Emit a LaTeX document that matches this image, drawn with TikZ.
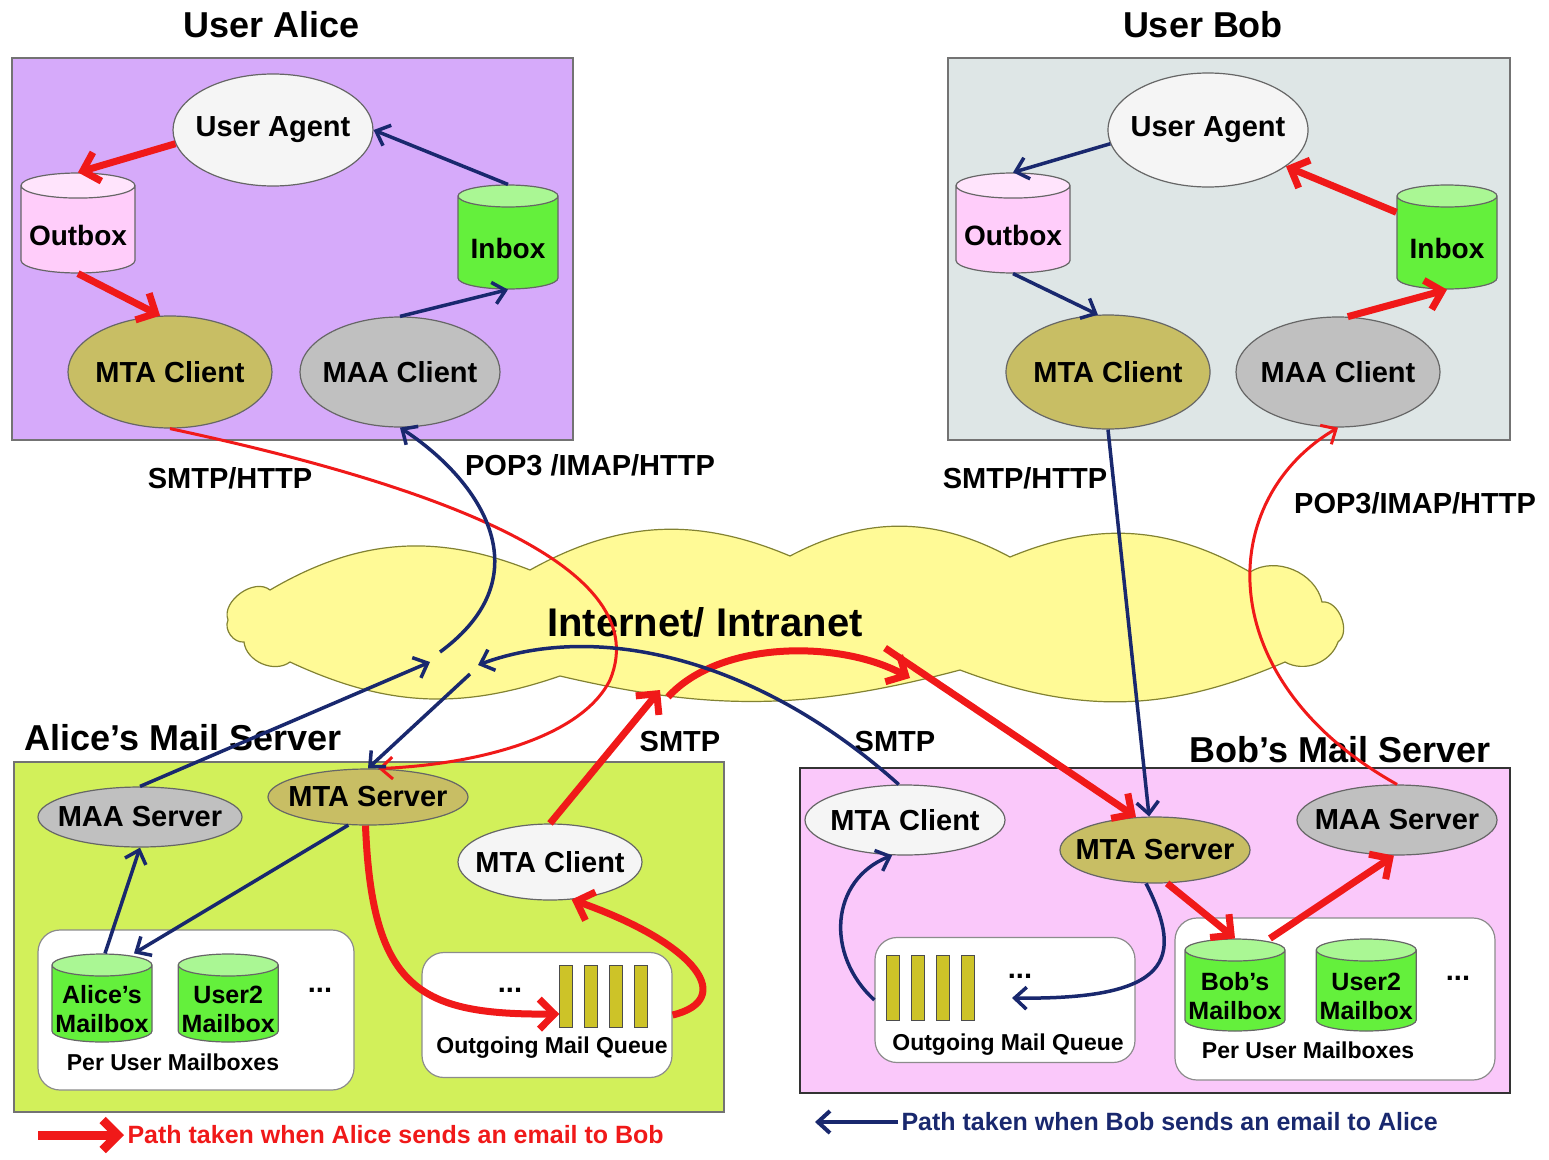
\documentclass[tikz,border=0pt]{standalone}
\usepackage{fontspec}
\setmainfont{Liberation Sans}
\usetikzlibrary{arrows.meta,positioning,shapes.geometric}
\definecolor{alicelilac}{RGB}{214,170,250}
\definecolor{bobgrey}{RGB}{222,230,230}
\definecolor{alicelime}{RGB}{210,240,90}
\definecolor{bobpink}{RGB}{250,200,250}
\definecolor{outpink}{RGB}{255,205,250}
\definecolor{mailgreen}{RGB}{100,240,60}
\definecolor{mtaolive}{RGB}{200,190,100}
\definecolor{maagrey}{RGB}{192,192,192}
\definecolor{agentwhite}{RGB}{245,245,245}
\definecolor{cloudyellow}{RGB}{255,250,150}
\definecolor{cloudedge}{RGB}{130,130,50}
\definecolor{barolive}{RGB}{205,195,40}
\definecolor{pathred}{RGB}{240,25,25}
\definecolor{pathnavy}{RGB}{25,40,110}
\newcommand{\boldat}[1]{\fontsize{#1}{#1}\selectfont\bfseries}

\begin{document}
\begin{tikzpicture}[
    x=1pt,y=-1pt,
    every node/.style={font=\boldat{29}},
    usrbox/.style={draw=black!55,line width=1.5pt},
    grp/.style={draw=black!45,fill=white,rounded corners=22pt,line width=1.2pt,inner sep=0pt},
    ell/.style={ellipse,draw=black!60,line width=1.2pt,inner sep=0pt,
      label={[font=\boldat{29}]center:#1}},
    can/.style={cylinder,shape border rotate=90,aspect=0.22,draw=black!60,line width=1.2pt,
      inner xsep=50pt,inner ysep=0pt,anchor=shape center,cylinder uses custom fill,
      cylinder body fill=mailgreen,cylinder end fill=mailgreen!55!white,
      label={[font=\fontsize{25}{29}\selectfont\bfseries,align=center]center:#1}},
    qbar/.style={draw=black!70,fill=barolive,minimum width=13pt,minimum height=62pt,inner sep=0pt},
    redfat/.style={draw=pathred,line width=7pt,-{Straight Barb[length=15pt,width=30pt]}},
    redthin/.style={draw=pathred,line width=3pt,-{Straight Barb[length=12pt,width=22pt]}},
    bluepath/.style={draw=pathnavy,line width=3.5pt,-{Straight Barb[length=12pt,width=22pt]}}
  ]
    \useasboundingbox (0,0) rectangle (1549,1159);

    % containers
    \draw[usrbox,fill=alicelilac] (12,58) rectangle (573,440);
    \draw[usrbox,fill=bobgrey] (948,58) rectangle (1510,440);
    \draw[usrbox,fill=alicelime] (14,762) rectangle (724,1112);
    \draw[usrbox,draw=black!80,fill=bobpink] (800,768) rectangle (1510,1093);
    \node[font=\boldat{36}] (alicehead) at (272,25) {User Alice};
    \node[font=\boldat{36}] (bobhead) at (1203,25) {User Bob};
    \node[font=\boldat{36}] (asrvhead) at (183,738) {Alice's Mail Server};
    \node[font=\boldat{36}] (bsrvhead) at (1340,750) {Bob's Mail Server};

    \node[grp,minimum width=316pt,minimum height=160pt] (ambox) at (196,1010) {};
    \node[grp,minimum width=250pt,minimum height=125pt] (aqbox) at (547,1015) {};
    \node[grp,minimum width=260pt,minimum height=125pt] (bqbox) at (1005,1000) {};
    \node[grp,minimum width=320pt,minimum height=162pt] (bmbox) at (1335,999) {};

    % the net
    \draw[cloudedge,fill=cloudyellow,line width=1.2pt]
      (228,620) to[bend left=75] (270,590) to[bend left=26] (530,570)
      to[bend left=26] (790,556) to[bend left=28] (1010,557)
      to[bend left=26] (1250,572) to[bend left=55] (1322,602)
      to[bend left=75] (1338,642) to[bend left=50] (1285,662)
      to[bend left=22] (960,670) to[bend left=14] (560,676)
      to[bend left=22] (290,662) to[bend left=60] (244,642) to[bend left=60] cycle;
    \node[font=\boldat{40}] (nettext) at (705,622) {Internet/ Intranet};

    % user Alice
    \node[ell=User Agent,fill=agentwhite,minimum width=200pt,minimum height=112pt] (aua) at (273,130) {};
    \node[can={\boldat{28}Outbox},inner xsep=57pt,cylinder body fill=outpink,cylinder end fill=outpink!55!white,
      minimum height=100pt] (aout) at (78,223) {};
    \node[can={\boldat{28}Inbox},minimum height=104pt] (ain) at (508,237) {};
    \node[ell=MTA Client,fill=mtaolive,minimum width=204pt,minimum height=112pt] (amtac) at (170,372) {};
    \node[ell=MAA Client,fill=maagrey,minimum width=200pt,minimum height=110pt] (amaac) at (400,372) {};

    % user Bob
    \node[ell=User Agent,fill=agentwhite,minimum width=200pt,minimum height=114pt] (bua) at (1208,130) {};
    \node[can={\boldat{28}Outbox},inner xsep=57pt,cylinder body fill=outpink,cylinder end fill=outpink!55!white,
      minimum height=100pt] (bout) at (1013,223) {};
    \node[can={\boldat{28}Inbox},minimum height=104pt] (bin) at (1447,237) {};
    \node[ell=MTA Client,fill=mtaolive,minimum width=204pt,minimum height=114pt] (bmtac) at (1108,372) {};
    \node[ell=MAA Client,fill=maagrey,minimum width=204pt,minimum height=110pt] (bmaac) at (1338,372) {};

    % Alice's server
    \node[ell=MAA Server,fill=maagrey,minimum width=204pt,minimum height=60pt] (amaas) at (140,817) {};
    \node[ell=MTA Server,fill=mtaolive,minimum width=200pt,minimum height=56pt] (amts) at (368,797) {};
    \node[ell=MTA Client,fill=agentwhite,minimum width=184pt,minimum height=76pt] (amtcl) at (550,862) {};
    \node[can={Alice's\\Mailbox},minimum height=88pt] (amb) at (102,998) {};
    \node[can={User2\\Mailbox},minimum height=88pt,right=25pt of amb] (au2) {};
    \node (amdots) at (320,990) {...};
    \node[font=\boldat{23}] (amlbl) at (173,1062) {Per User Mailboxes};
    \foreach \i in {1,...,4}
      \node[qbar] (aq\i) at ({541+25*\i},996) {};
    \node (aqdots) at (510,990) {...};
    \node[font=\boldat{23}] (aqlbl) at (552,1048) {Outgoing Mail Queue};

    % Bob's server
    \node[ell=MTA Client,fill=agentwhite,minimum width=200pt,minimum height=70pt] (bmtcl) at (905,820) {};
    \node[ell=MTA Server,fill=mtaolive,minimum width=190pt,minimum height=66pt] (bmts) at (1155,850) {};
    \node[ell=MAA Server,fill=maagrey,minimum width=200pt,minimum height=70pt] (bmaas) at (1397,820) {};
    \foreach \i in {1,...,4}
      \node[qbar,minimum height=65pt] (bq\i) at ({868+25*\i},988) {};
    \node (bqdots) at (1020,976) {...};
    \node[font=\boldat{23}] (bqlbl) at (1008,1045) {Outgoing Mail Queue};
    \node[can={Bob's\\Mailbox},minimum height=92pt] (bmb) at (1235,985) {};
    \node[can={User2\\Mailbox},minimum height=92pt,right=30pt of bmb] (bu2) {};
    \node (bmdots) at (1458,978) {...};
    \node[font=\boldat{23}] (bmlbl) at (1308,1050) {Per User Mailboxes};

    % protocol labels
    \node (lsmtpa) at (230,478) {SMTP/HTTP};
    \node (lpopa) at (590,465) {POP3 /IMAP/HTTP};
    \node (lsmtpb) at (1025,478) {SMTP/HTTP};
    \node (lpopb) at (1415,503) {POP3/IMAP/HTTP};
    \node (lsmtpc) at (680,742) {SMTP};
    \node (lsmtpd) at (895,742) {SMTP};

    % crossing points in the net
    \coordinate (aenter) at (430,662);
    \coordinate (aexit) at (440,652);
    \coordinate (benter) at (478,665);
    \coordinate (bexit) at (470,674);
    \coordinate (cin) at (660,690);
    \coordinate (cout) at (668,697);
    \coordinate (cend) at (910,678);
    \coordinate (cjump) at (885,648);
    \coordinate (bqin) at (1012,998);

    % Alice -> Bob
    \draw[redfat] (aua.188) -- (aout.north);
    \draw[redfat] (aout.south) -- (amtac.100);
    \draw[redthin] (amtac.south) .. controls (410,480) and (660,560) .. (610,680)
      .. controls (580,740) and (470,765) .. (amts.70);
    \draw[redfat] (amts.265) .. controls (372,990) and (420,1015) .. ([yshift=-18pt]aq1.west);
    \draw[redfat] (aqbox.east) .. controls (735,1000) and (700,945) .. (amtcl.-60);
    \draw[redfat] (amtcl.north) -- (cin);
    \draw[redfat] (cout) .. controls (720,640) and (840,640) .. (cend);
    \draw[redfat] (cjump) -- (bmts.120);
    \draw[redfat] (bmts.290) -- (bmb.north);
    \draw[redfat] ([xshift=35pt]bmb.north) -- (bmaas.265);
    \draw[redthin] (bmaas.north) .. controls (1210,680) and (1215,500) .. (bmaac.south);
    \draw[redfat] (bmaac.80) -- (bin.south);
    \draw[redfat] ([yshift=36pt]bin.west) -- (bua.-25);

    % Bob -> Alice
    \draw[bluepath] (bua.188) -- (bout.north);
    \draw[bluepath] (bout.south) -- (bmtac.100);
    \draw[bluepath] (bmtac.south) -- (bmts.100);
    \draw[bluepath] (bmts.255) .. controls (1185,960) and (1170,1000) .. (bqin);
    \draw[bluepath] (bqbox.west) .. controls (825,955) and (830,880) .. (bmtcl.250);
    \draw[bluepath] (bmtcl.100) .. controls (760,660) and (600,620) .. (benter);
    \draw[bluepath] (bexit) -- (amts.north);
    \draw[bluepath] (amts.235) -- ([xshift=32pt]amb.north);
    \draw[bluepath] ([xshift=3pt]amb.north) -- (amaas.south);
    \draw[bluepath] (amaas.north) -- (aenter);
    \draw[bluepath] (aexit) .. controls (545,575) and (480,480) .. (amaac.south);
    \draw[bluepath] (amaac.north) -- (ain.south);
    \draw[bluepath] (ain.north) -- (aua.east);

    % legend
    \coordinate (redtail) at (38,1135);
    \node[font=\boldat{25},text=pathred,anchor=west] (redkey) at (124,1135)
      {Path taken when Alice sends an email to Bob};
    \draw[redfat,line width=9pt] (redtail) -- (redkey);
    \coordinate (bluehead) at (815,1122);
    \node[font=\boldat{25},text=pathnavy,anchor=west] (bluekey) at (898,1122)
      {Path taken when Bob sends an email to Alice};
    \draw[bluepath,line width=4pt] (bluekey) -- (bluehead);
  \end{tikzpicture}
\end{document}
